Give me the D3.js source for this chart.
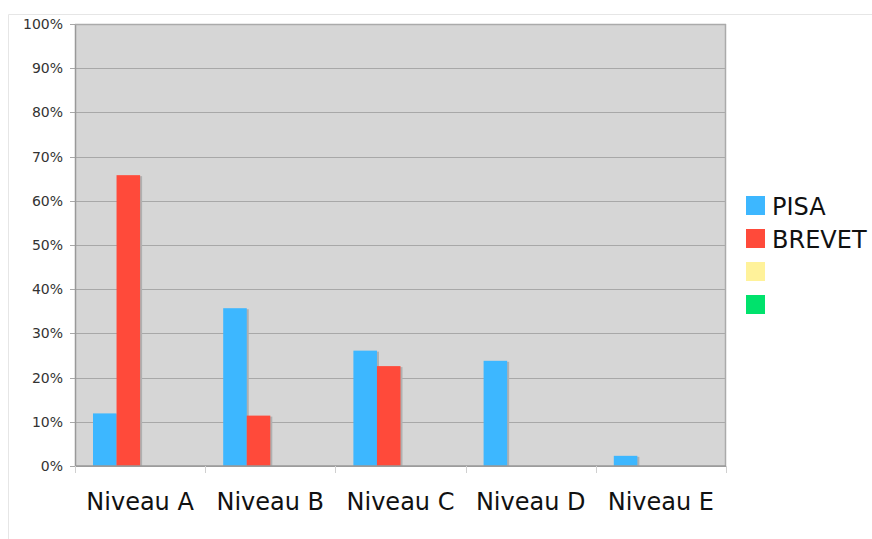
<!DOCTYPE html>
<html>
<head>
<meta charset="utf-8">
<script src="https://cdn.jsdelivr.net/npm/d3@7"></script>
<style>
  body { margin: 0; background: #fff; }
  svg { display: block; font-family: "DejaVu Sans", Verdana, sans-serif; }
</style>
</head>
<body>
<svg id="chart"></svg>
<script>
const categories = ["Niveau A", "Niveau B", "Niveau C", "Niveau D", "Niveau E"];
const seriesNames = ["PISA", "BREVET", "", ""];
const seriesColors = ["#3db7ff", "#ff4a3a", "#fff29a", "#00e26c"];
const pisa = [11.9, 35.7, 26.1, 23.8, 2.3];
const brevet = [65.8, 11.4, 22.6, 0, 0];
const serie3 = [0, 0, 0, 0, 0];
const serie4 = [0, 0, 0, 0, 0];
const yTicks = [0, 10, 20, 30, 40, 50, 60, 70, 80, 90, 100];

const width = 872, height = 539;
const margin = { top: 24, right: 146, bottom: 73, left: 75 };
const innerW = width - margin.left - margin.right;
const innerH = height - margin.top - margin.bottom;

const svg = d3.select("#chart").attr("width", width).attr("height", height);

// outer frame (only top and left edges visible)
svg.append("line").attr("x1", 8.5).attr("x2", width).attr("y1", 14.5).attr("y2", 14.5)
  .attr("stroke", "#e6e6e6");
svg.append("line").attr("x1", 8.5).attr("x2", 8.5).attr("y1", 14.5).attr("y2", height)
  .attr("stroke", "#e6e6e6");

const g = svg.append("g").attr("transform", `translate(${margin.left},${margin.top})`);

const x0 = d3.scaleBand().domain(categories).range([0, innerW]).paddingInner(0).paddingOuter(0);
const x1 = d3.scaleBand().domain(d3.range(4)).range([18, x0.bandwidth() - 18]);
const y = d3.scaleLinear().domain([0, 100]).range([innerH, 0]);

g.append("rect").attr("width", innerW).attr("height", innerH).attr("fill", "#d6d6d6");

// grid
g.selectAll(".grid").data(yTicks).enter().append("line")
  .attr("x1", -5).attr("x2", innerW)
  .attr("y1", d => Math.round(y(d)) + 0.5).attr("y2", d => Math.round(y(d)) + 0.5)
  .attr("stroke", "#a8a8a8").attr("stroke-width", 1);

// y labels
const yAxis = d3.axisLeft(y).tickValues(yTicks).tickFormat(d => d + "%").tickSize(0).tickPadding(12);
g.append("g").call(yAxis).call(s => s.select(".domain").remove())
  .selectAll("text").attr("fill", "#333").style("font-size", "14px")
  .style("font-family", "'DejaVu Sans', Verdana, sans-serif");

// bars
const allSeries = [pisa, brevet, serie3, serie4];
const groups = g.selectAll(".cat").data(categories).enter().append("g")
  .attr("transform", d => `translate(${x0(d)},0)`);

groups.each(function(cat, ci) {
  const sel = d3.select(this);
  allSeries.forEach((vals, si) => {
    const v = vals[ci];
    if (!v) return;
    sel.append("rect")
      .attr("x", x1(si) + 2).attr("y", y(v) + 1)
      .attr("width", x1.bandwidth()).attr("height", innerH - y(v) - 1)
      .attr("fill", "#b0b0b0");
    sel.append("rect")
      .attr("x", x1(si)).attr("y", y(v))
      .attr("width", x1.bandwidth()).attr("height", innerH - y(v))
      .attr("fill", seriesColors[si]);
  });
});

// plot border
g.append("line").attr("x1", 0.5).attr("x2", 0.5).attr("y1", 0).attr("y2", innerH)
  .attr("stroke", "#999").attr("stroke-width", 1.5);
g.append("line").attr("x1", innerW - 0.5).attr("x2", innerW - 0.5).attr("y1", 0).attr("y2", innerH)
  .attr("stroke", "#aaa").attr("stroke-width", 1.5);
g.append("line").attr("x1", 0).attr("x2", innerW).attr("y1", 0.5).attr("y2", 0.5)
  .attr("stroke", "#aaa").attr("stroke-width", 1.5);
g.append("line").attr("x1", 0).attr("x2", innerW).attr("y1", innerH).attr("y2", innerH)
  .attr("stroke", "#999").attr("stroke-width", 1.5);

// x ticks and labels
const xTicks = d3.range(categories.length + 1).map(i => i * x0.step());
g.selectAll(".xt").data(xTicks).enter().append("line")
  .attr("x1", d => Math.round(d) + 0.5).attr("x2", d => Math.round(d) + 0.5)
  .attr("y1", innerH).attr("y2", innerH + 7)
  .attr("stroke", "#d0d0d0");

g.selectAll(".xl").data(categories).enter().append("text")
  .attr("x", d => x0(d) + x0.bandwidth() / 2)
  .attr("y", innerH + 44)
  .attr("text-anchor", "middle")
  .attr("fill", "#111")
  .style("font-size", "24px")
  .text(d => d);

// legend
const legend = svg.append("g").attr("transform", "translate(746,196)");
seriesNames.forEach((name, i) => {
  legend.append("rect").attr("x", 0).attr("y", i * 33)
    .attr("width", 19).attr("height", 19).attr("fill", seriesColors[i]);
  legend.append("text").attr("x", 26).attr("y", i * 33 + 19)
    .attr("fill", "#111").style("font-size", "24px").text(name);
});
</script>
</body>
</html>
